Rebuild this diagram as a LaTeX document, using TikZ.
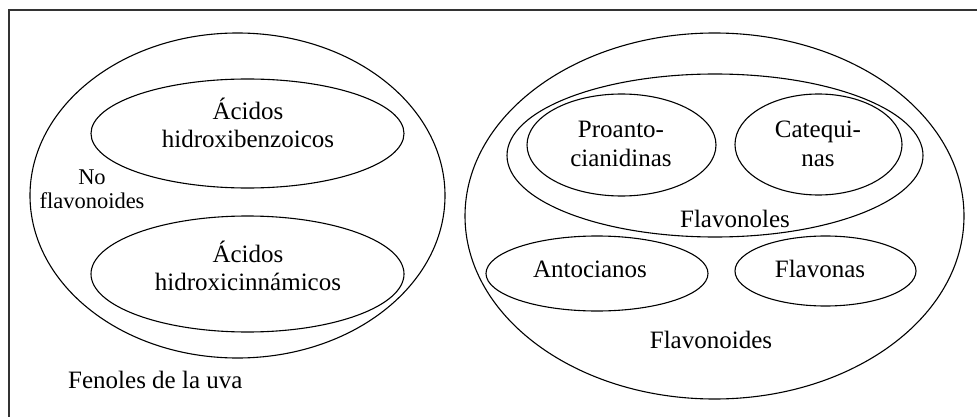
\documentclass[tikz,border=0pt]{standalone}
\usepackage{fontspec}
\setmainfont{Liberation Serif}
\usetikzlibrary{shapes.geometric}
\begin{document}
\begin{tikzpicture}[x=1pt,y=-1pt,
  set/.style={draw=black,line width=1.1pt,ellipse,inner sep=0pt,outer sep=0pt},
  lbl/.style={anchor=base,inner sep=0pt,font=\fontsize{25}{28}\selectfont},
  slbl/.style={anchor=base,inner sep=0pt,font=\fontsize{22.5}{25}\selectfont},
  frame/.style={draw=black!80,line width=1.6pt}]
\useasboundingbox (0,0) rectangle (977,417);
% frame (top and left edges visible)
\coordinate (ftr) at (977,10);
\coordinate (ftl) at (9,10);
\coordinate (fbl) at (9,417);
\draw[frame] (ftr) -- (ftl) -- (fbl);
% left group
\node[set,minimum width=415pt,minimum height=325pt] (nof) at (237.5,195.5) {};
\node[set,minimum width=313pt,minimum height=109pt] (hb) at (247.5,133.5) {};
\node[set,minimum width=313pt,minimum height=116pt] (hc) at (247.5,274) {};
\node[lbl] (hb1) at (248,120) {Ácidos};
\node[lbl] (hb2) at (248,148) {hidroxibenzoicos};
\node[lbl] (hc1) at (248,262) {Ácidos};
\node[lbl] (hc2) at (248,290) {hidroxicinnámicos};
\node[slbl] (no1) at (92,184) {No};
\node[slbl] (no2) at (92,208) {flavonoides};
\node[lbl,anchor=base west] (fen) at (68,388) {Fenoles de la uva};
% right group
\node[set,minimum width=499pt,minimum height=366pt] (flav) at (714.5,216) {};
\node[set,minimum width=416pt,minimum height=163pt] (fnl) at (715,155.5) {};
\node[set,minimum width=189pt,minimum height=102pt] (pro) at (621.5,145) {};
\node[set,minimum width=167pt,minimum height=101pt] (cat) at (818.5,144.5) {};
\node[set,minimum width=222pt,minimum height=75pt] (ant) at (597,273.5) {};
\node[set,minimum width=181pt,minimum height=70pt] (fls) at (825.5,271) {};
\node[lbl] (pro1) at (621,138) {Proanto-};
\node[lbl] (pro2) at (621,167) {cianidinas};
\node[lbl] (cat1) at (818,138) {Catequi-};
\node[lbl] (cat2) at (818,167) {nas};
\node[lbl] (fnlt) at (735,227) {Flavonoles};
\node[lbl] (antt) at (590,277) {Antocianos};
\node[lbl] (flst) at (820,277) {Flavonas};
\node[lbl] (flavt) at (711,348) {Flavonoides};
\end{tikzpicture}
\end{document}
